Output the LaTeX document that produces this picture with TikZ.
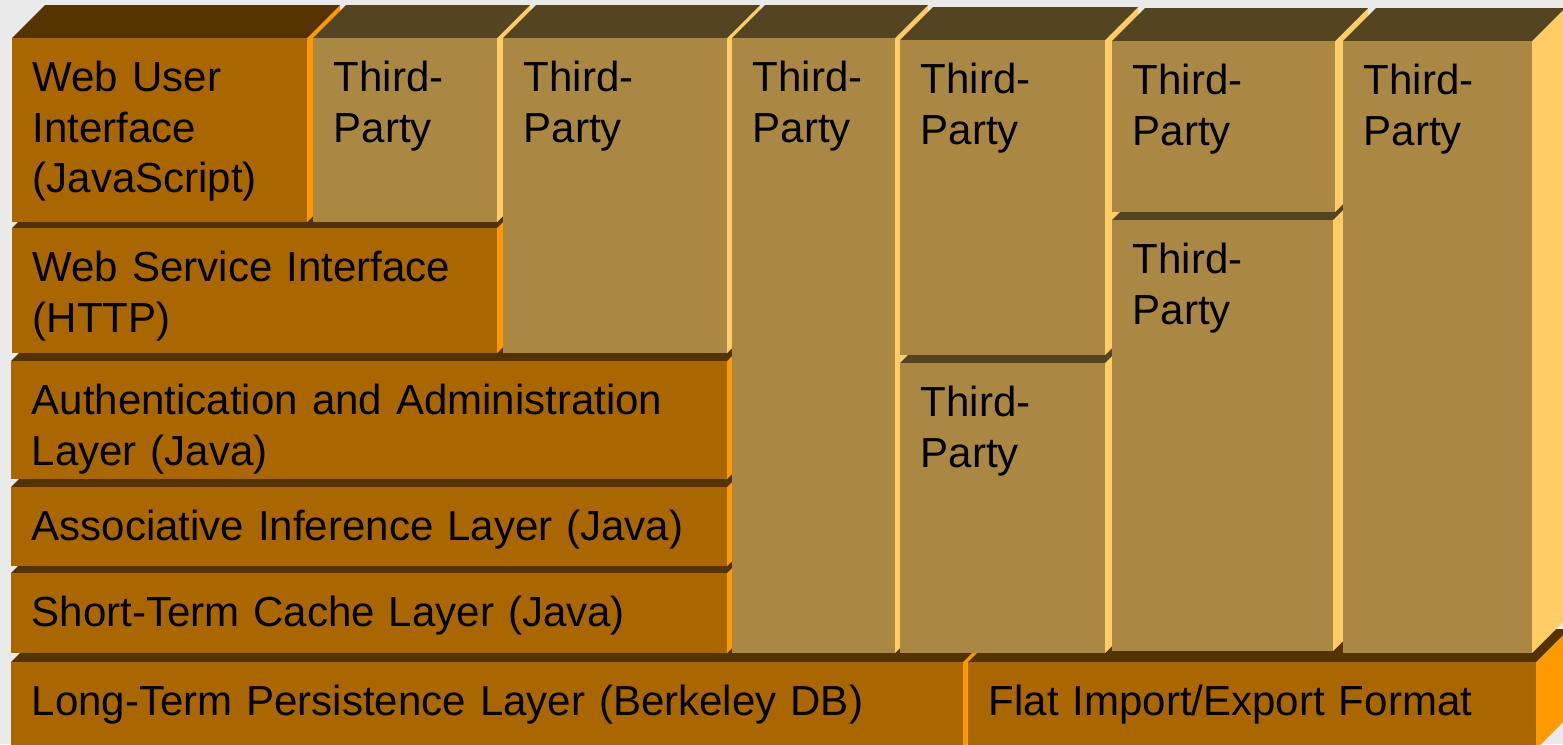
\documentclass[tikz,border=0pt]{standalone}
\usepackage{fontspec}
\setmainfont{Liberation Sans}
\usetikzlibrary{fit}
\definecolor{bgc}{HTML}{EAEAEA}
\definecolor{oF}{HTML}{AA6600}
\definecolor{oT}{HTML}{553300}
\definecolor{oS}{HTML}{FF9900}
\definecolor{tF}{HTML}{AA8844}
\definecolor{tT}{HTML}{554422}
\definecolor{tS}{HTML}{FFCC66}
\tikzset{
  lbl/.style={anchor=base west, inner sep=0pt, text width=10cm, align=left,
    font=\fontsize{11.95}{14.5}\selectfont, text=black},
}
\newcommand{\layerbox}[9]{%
  \fill[#8] (#4,#3) -- ++(33,-33) -- ({#4+33},{#5-33}) -- (#4,#5) -- cycle;
  \fill[#7] (#2,#3) -- ++(33,-33) -- ({#4+33},{#3-33}) -- (#4,#3) -- cycle;
  \node[fit={(#2,#3) (#4,#5)}, inner sep=0pt, fill=#6] (#1) {};
  \node[lbl] (#1-t) at ({#2+20},{#3+53}) {#9};
}
\begin{document}
\begin{tikzpicture}[x=0.01cm, y=-0.01cm]
\useasboundingbox (0,0) rectangle (1563,744);
\clip (0,0) rectangle (1563,744);
\fill[bgc] (0,0) rectangle (1563,744);
\layerbox{lt}{11}{662}{963}{749}{oF}{oT}{oS}{Long-Term Persistence Layer (Berkeley DB)}
\layerbox{flat}{968}{662}{1536}{749}{oF}{oT}{oS}{Flat Import/Export Format}
\layerbox{stc}{11}{573}{727}{653}{oF}{oT}{oS}{Short-Term Cache Layer (Java)}
\layerbox{ail}{11}{487}{727}{566}{oF}{oT}{oS}{Associative Inference Layer (Java)}
\layerbox{aal}{11}{361}{727}{479}{oF}{oT}{oS}{Authentication and Administration\\Layer (Java)}
\layerbox{wsi}{12}{228}{497}{353}{oF}{oT}{oS}{Web Service Interface\\(HTTP)}
\layerbox{wui}{12}{38}{307}{222}{oF}{oT}{oS}{Web User\\Interface\\(JavaScript)}
\layerbox{tpa}{313}{38}{497}{222}{tF}{tT}{tS}{Third-\\Party}
\layerbox{tpb}{503}{38}{727}{353}{tF}{tT}{tS}{Third-\\Party}
\layerbox{tpc}{732}{38}{895}{653}{tF}{tT}{tS}{Third-\\Party}
\layerbox{tpe}{900}{363}{1105}{653}{tF}{tT}{tS}{Third-\\Party}
\layerbox{tpd}{900}{40}{1105}{355}{tF}{tT}{tS}{Third-\\Party}
\layerbox{tpg}{1112}{220}{1333}{651}{tF}{tT}{tS}{Third-\\Party}
\layerbox{tpf}{1112}{41}{1335}{212}{tF}{tT}{tS}{Third-\\Party}
\layerbox{tph}{1343}{41}{1532}{653}{tF}{tT}{tS}{Third-\\Party}
\end{tikzpicture}
\end{document}
